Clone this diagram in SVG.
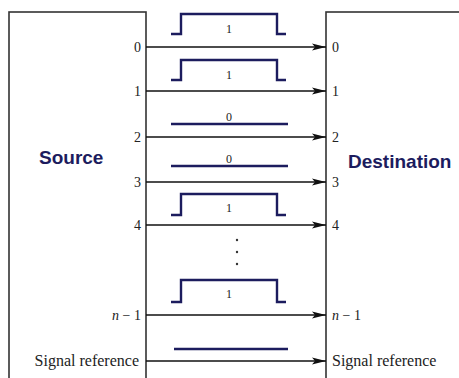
<svg xmlns="http://www.w3.org/2000/svg" width="459" height="378" viewBox="0 0 459 378">
<defs>
<marker id="arr" markerWidth="14" markerHeight="8" refX="14" refY="4" orient="auto" markerUnits="userSpaceOnUse">
<path d="M0,0.5 L14,4 L0,7.5 L3,4 Z" fill="#111"/>
</marker>
</defs>
<style>
.box{fill:#fff;stroke:#333;stroke-width:1.6}
.conn{stroke:#111;stroke-width:1.5;fill:none}
.sig{stroke:#1c1c5e;stroke-width:2.4;fill:none}
.lbl{font-family:"Liberation Serif",serif;font-size:14px;fill:#222}
.sref{font-family:"Liberation Serif",serif;font-size:16px;fill:#222}
.bit{font-family:"Liberation Serif",serif;font-size:12px;fill:#222;text-anchor:middle}
.title{font-family:"Liberation Sans",Arial,sans-serif;font-weight:bold;font-size:19px;fill:#1c1c5e}
</style>
<rect width="459" height="378" fill="#fff"/>
<g id="source">
<rect class="box" x="9" y="12" width="137" height="380"/>
<text class="title" x="39" y="164">Source</text>
<g class="lbl" text-anchor="end">
<text x="141" y="52">0</text>
<text x="141" y="96">1</text>
<text x="141" y="142">2</text>
<text x="141" y="187">3</text>
<text x="141" y="230">4</text>
<text x="141" y="320"><tspan font-style="italic">n</tspan> − 1</text>
</g>
<text class="sref" x="139" y="366" text-anchor="end">Signal reference</text>
</g>
<g id="destination">
<rect class="box" x="326" y="12" width="150" height="380"/>
<text class="title" x="348" y="168">Destination</text>
<g class="lbl">
<text x="332" y="52">0</text>
<text x="332" y="96">1</text>
<text x="332" y="142">2</text>
<text x="332" y="187">3</text>
<text x="332" y="230">4</text>
<text x="332" y="320"><tspan font-style="italic">n</tspan> − 1</text>
</g>
<text class="sref" x="332" y="366">Signal reference</text>
</g>
<g id="signals">
<path class="sig" d="M171,34 H181 V14 H277 V34 H286"/>
<text class="bit" x="229" y="33">1</text>
<path class="sig" d="M171,80 H181 V60 H277 V80 H286"/>
<text class="bit" x="229" y="79">1</text>
<path class="sig" d="M171,124 H288"/>
<text class="bit" x="229" y="121">0</text>
<path class="sig" d="M171,166 H288"/>
<text class="bit" x="229" y="163">0</text>
<path class="sig" d="M171,215 H181 V194 H277 V215 H286"/>
<text class="bit" x="229" y="212">1</text>
<path class="sig" d="M171,302 H181 V280 H277 V302 H286"/>
<text class="bit" x="229" y="298">1</text>
<path class="sig" d="M174,349 H288"/>
<g fill="#333">
<circle cx="237" cy="240" r="1.2"/>
<circle cx="237" cy="252" r="1.2"/>
<circle cx="237" cy="264" r="1.2"/>
</g>
</g>
<g id="connectors">
<line class="conn" x1="146" y1="47" x2="326" y2="47" marker-end="url(#arr)"/>
<line class="conn" x1="146" y1="91" x2="326" y2="91" marker-end="url(#arr)"/>
<line class="conn" x1="146" y1="137" x2="326" y2="137" marker-end="url(#arr)"/>
<line class="conn" x1="146" y1="182" x2="326" y2="182" marker-end="url(#arr)"/>
<line class="conn" x1="146" y1="225" x2="326" y2="225" marker-end="url(#arr)"/>
<line class="conn" x1="146" y1="315" x2="326" y2="315" marker-end="url(#arr)"/>
<line class="conn" x1="146" y1="361" x2="326" y2="361" marker-end="url(#arr)"/>
</g>
</svg>
